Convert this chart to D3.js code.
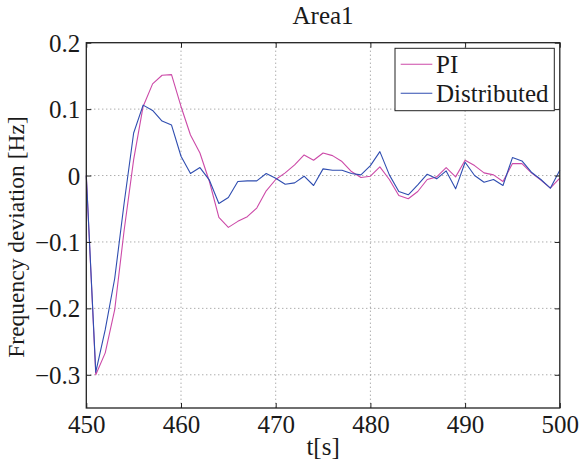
<!DOCTYPE html>
<html>
<head>
<meta charset="utf-8">
<script src="https://cdn.jsdelivr.net/npm/d3@7"></script>
<style>
  html, body { margin: 0; padding: 0; background: #fff; }
  svg { display: block; }
</style>
</head>
<body>
<svg id="chart" width="581" height="466"></svg>
<script>
// Time axis (seconds), one sample per second
const time = d3.range(450, 501);

// Frequency deviation [Hz] for each controller
const piValues = [
  0, -0.300, -0.267, -0.202, -0.082, 0.024, 0.104, 0.138, 0.151, 0.152,
  0.104, 0.061, 0.034, -0.009, -0.063, -0.078, -0.069, -0.062, -0.049, -0.023,
  -0.006, 0.004, 0.016, 0.031, 0.023, 0.034, 0.030, 0.021, 0.006, -0.003,
  -0.001, 0.013, -0.006, -0.030, -0.035, -0.024, -0.006, -0.002, 0.012, -0.002,
  0.023, 0.015, 0.004, 0.001, -0.009, 0.018, 0.018, 0.004, -0.007, -0.019,
  -0.004
];
const distributedValues = [
  0, -0.296, -0.232, -0.155, -0.041, 0.064, 0.106, 0.098, 0.082, 0.076,
  0.029, 0.003, 0.012, -0.007, -0.042, -0.033, -0.009, -0.008, -0.008, 0.003,
  -0.004, -0.013, -0.011, -0.001, -0.015, 0.010, 0.008, 0.008, 0.003, 0.001,
  0.015, 0.036, 0.001, -0.024, -0.029, -0.014, 0.002, -0.005, 0.007, -0.020,
  0.020, 0.000, -0.010, -0.006, -0.015, 0.027, 0.022, 0.005, -0.006, -0.019,
  0.008
];

const seriesNames = ["PI", "Distributed"];
const seriesColors = ["#cc4aa8", "#2f4db0"];

const xTicks = [450, 460, 470, 480, 490, 500];
const yTicks = [0.2, 0.1, 0, -0.1, -0.2, -0.3];

const titleText = "Area1";
const xLabel = "t[s]";
const yLabel = "Frequency deviation [Hz]";

const svg = d3.select("#chart");
const plotLeft = 86.3, plotRight = 559.8, plotTop = 42.7, plotBottom = 408;

const x = d3.scaleLinear().domain([450, 500]).range([plotLeft, plotRight]);
const y = d3.scaleLinear().domain([-0.35, 0.2]).range([plotBottom, plotTop]);

const fmtY = v => (v === 0 ? "0" : d3.format(".1f")(v).replace("-", "\u2212"));
const fontSize = 25;
const serif = '"Liberation Serif", "Times New Roman", Times, serif';
const textColor = "#1a1a1a";

// dotted grid
const grid = svg.append("g").attr("stroke", "#8a8a8a").attr("stroke-width", 1)
  .attr("stroke-dasharray", "1,3");
grid.selectAll("line.gx").data(xTicks.filter(t => t > 450 && t < 500)).join("line")
  .attr("x1", d => x(d)).attr("x2", d => x(d)).attr("y1", plotTop).attr("y2", plotBottom);
grid.selectAll("line.gy").data(yTicks.filter(t => t < 0.2)).join("line")
  .attr("x1", plotLeft).attr("x2", plotRight).attr("y1", d => y(d)).attr("y2", d => y(d));

// series lines
const line = d3.line().x((d, i) => x(time[i])).y(d => y(d));
[piValues, distributedValues].forEach((vals, k) => {
  svg.append("path").datum(vals)
    .attr("fill", "none")
    .attr("stroke", seriesColors[k])
    .attr("stroke-width", 1.1)
    .attr("stroke-linejoin", "round")
    .attr("d", line);
});

// axes with inward ticks on all four sides
const tickLen = 5;
const axisColor = "#222";
const axBottom = svg.append("g").attr("transform", `translate(0,${plotBottom})`)
  .attr("font-family", serif)
  .call(d3.axisBottom(x).tickValues(xTicks).tickSizeInner(-tickLen).tickSizeOuter(0));
const axTop = svg.append("g").attr("transform", `translate(0,${plotTop})`)
  .call(d3.axisTop(x).tickValues(xTicks).tickSizeInner(-tickLen).tickSizeOuter(0).tickFormat(""));
const axLeft = svg.append("g").attr("transform", `translate(${plotLeft},0)`)
  .call(d3.axisLeft(y).tickValues(yTicks).tickSizeInner(-tickLen).tickSizeOuter(0).tickPadding(6).tickFormat(fmtY));
const axRight = svg.append("g").attr("transform", `translate(${plotRight},0)`)
  .call(d3.axisRight(y).tickValues(yTicks).tickSizeInner(-tickLen).tickSizeOuter(0).tickFormat(""));

[axBottom, axTop, axLeft, axRight].forEach(g => {
  g.attr("font-family", serif).attr("font-size", fontSize);
  g.select(".domain").remove();
  g.selectAll(".tick line").attr("stroke", axisColor).attr("stroke-width", 1);
  g.selectAll(".tick text")
    .style("font-family", serif)
    .style("font-size", fontSize + "px")
    .style("fill", textColor);
});
axBottom.selectAll(".tick text").attr("y", 25).attr("dy", "0");
axLeft.selectAll(".tick text").attr("dy", "0.34em");

// frame
svg.append("rect").attr("x", plotLeft).attr("y", plotTop)
  .attr("width", plotRight - plotLeft).attr("height", plotBottom - plotTop)
  .attr("fill", "none").attr("stroke", axisColor).attr("stroke-width", 1.3);

// title and axis labels
const addText = (sel, size) => sel.style("font-family", serif)
  .style("font-size", (size || fontSize) + "px").style("fill", textColor);
addText(svg.append("text").attr("x", (plotLeft + plotRight) / 2).attr("y", 24)
  .attr("text-anchor", "middle").text(titleText));
addText(svg.append("text").attr("x", (plotLeft + plotRight) / 2).attr("y", 455)
  .attr("text-anchor", "middle").text(xLabel));
addText(svg.append("text")
  .attr("transform", `translate(24,237) rotate(-90)`)
  .attr("text-anchor", "middle").text(yLabel), 23.5);

// legend
const lg = svg.append("g");
lg.append("rect").attr("x", 395).attr("y", 48.3).attr("width", 159.3).attr("height", 62.4)
  .attr("fill", "#fff").attr("stroke", axisColor).attr("stroke-width", 1);
seriesNames.forEach((name, i) => {
  const ly = 64.3 + i * 29;
  lg.append("line").attr("x1", 400.7).attr("x2", 432.3).attr("y1", ly).attr("y2", ly)
    .attr("stroke", seriesColors[i]).attr("stroke-width", 1.1);
  addText(lg.append("text").attr("x", 436).attr("y", ly + 9).text(name));
});
</script>
</body>
</html>
